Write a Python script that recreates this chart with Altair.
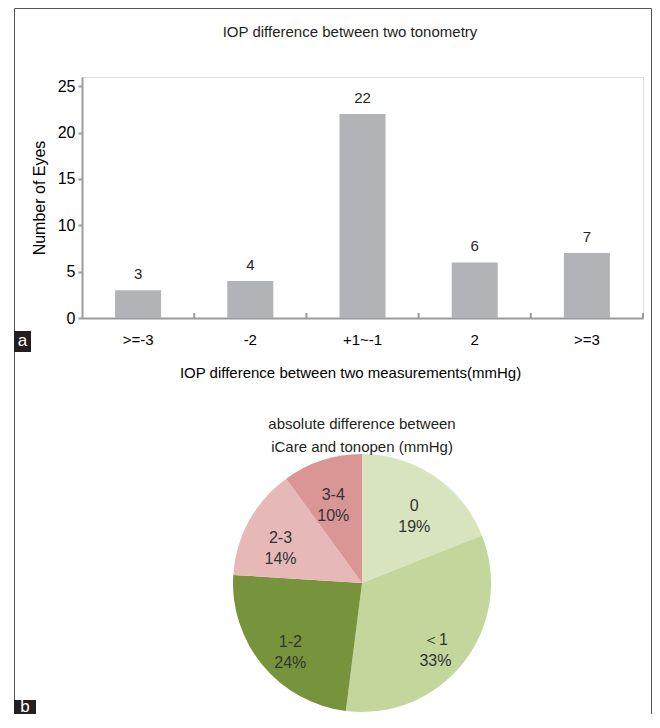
import altair as alt
import pandas as pd

FONT = "Liberation Sans"
TXT = "#231f20"

# Panel a: bar chart data
cats = [">=-3", "-2", "+1~-1", "2", ">=3"]
counts = [3, 4, 22, 6, 7]

# Panel b: pie chart data
slices = ["0", "＜1", "1-2", "2-3", "3-4"]
pcts = [19, 33, 24, 14, 10]
slice_colors = ["#d7e4bd", "#c3d69b", "#77933c", "#e6b9b8", "#d99694"]

bars_df = pd.DataFrame({"cat": cats, "count": counts})
pie_df = pd.DataFrame({
    "slice": slices,
    "pct": pcts,
    "idx": list(range(len(slices))),
    "label": [f"{s}\n{p}%" for s, p in zip(slices, pcts)],
})
one = pd.DataFrame({"k": [0]})

# plot area origin sits at page (82, 77)
OX, OY = 82, 77

xenc = alt.X(
    "cat:N", sort=cats,
    scale=alt.Scale(paddingInner=0, paddingOuter=0),
    axis=alt.Axis(
        title="IOP difference between two measurements(mmHg)",
        ticks=False, labelPadding=14, labelFontSize=15, labelAngle=0,
        titleFontSize=15, titlePadding=18, titleX=268, titleFontWeight="normal",
        domainColor="#9a9a9a", domainWidth=2,
    ),
)
yenc = alt.Y(
    "count:Q", scale=alt.Scale(domain=[0, 25]),
    axis=alt.Axis(
        title="Number of Eyes", values=[0, 5, 10, 15, 20, 25], grid=False,
        tickSize=4, tickColor="#9a9a9a", tickWidth=2, labelPadding=3,
        labelFontSize=16, titleFontSize=16, titleFontWeight="normal",
        titlePadding=10, domainColor="#9a9a9a", domainWidth=2,
    ),
)

frame = alt.Chart(one).mark_rect(filled=False, stroke="#555555", strokeWidth=1).encode(
    x=alt.value(14.5 - OX), x2=alt.value(651.5 - OX),
    y=alt.value(8.5 - OY), y2=alt.value(760 - OY),
)

bars = alt.Chart(bars_df).mark_bar(size=46, color="#b2b3b6").encode(x=xenc, y=yenc)

bar_text = alt.Chart(bars_df).mark_text(
    dy=-8, baseline="bottom", fontSize=15, font=FONT, color=TXT
).encode(x=alt.X("cat:N", sort=cats), y="count:Q", text="count:Q")

xticks = alt.Chart(bars_df).mark_rule(color="#9a9a9a", strokeWidth=2).encode(
    x=alt.X("cat:N", sort=cats, bandPosition=1),
    y=alt.value(241), y2=alt.value(236),
)

title_a = alt.Chart(one).mark_text(fontSize=15, font=FONT, color=TXT).encode(
    x=alt.value(350 - OX), y=alt.value(32 - OY),
    text=alt.value("IOP difference between two tonometry"),
)

pie = alt.Chart(pie_df).mark_arc(radius=129).encode(
    theta=alt.Theta("pct:Q", stack=True),
    order=alt.Order("idx:Q"),
    color=alt.Color("slice:N", sort=slices,
                    scale=alt.Scale(domain=slices, range=slice_colors), legend=None),
    x=alt.value(362 - OX), y=alt.value(583 - OY),
)

pie_text = alt.Chart(pie_df).mark_text(
    radius=93, lineBreak="\n", fontSize=16, font=FONT, color="#333333", lineHeight=21
).encode(
    theta=alt.Theta("pct:Q", stack=True),
    order=alt.Order("idx:Q"),
    text="label:N",
    x=alt.value(362 - OX), y=alt.value(583 - OY),
)

pie_title = alt.Chart(one).mark_text(
    fontSize=15, font=FONT, color=TXT, lineBreak="\n", lineHeight=23
).encode(
    x=alt.value(362 - OX), y=alt.value(424 - OY),
    text=alt.value("absolute difference between\niCare and tonopen (mmHg)"),
)

box_a = alt.Chart(one).mark_rect(color="#231f20").encode(
    x=alt.value(14 - OX), x2=alt.value(31 - OX),
    y=alt.value(331 - OY), y2=alt.value(352 - OY),
)
lab_a = alt.Chart(one).mark_text(fontSize=17, font=FONT, color="white").encode(
    x=alt.value(22.5 - OX), y=alt.value(341 - OY), text=alt.value("a"),
)
box_b = alt.Chart(one).mark_rect(color="#231f20").encode(
    x=alt.value(14 - OX), x2=alt.value(36 - OX),
    y=alt.value(700 - OY), y2=alt.value(735 - OY),
)
lab_b = alt.Chart(one).mark_text(fontSize=17, font=FONT, color="white").encode(
    x=alt.value(25 - OX), y=alt.value(707 - OY), text=alt.value("b"),
)

chart = alt.layer(
    frame, bars, bar_text, xticks, title_a, pie, pie_text, pie_title,
    box_a, lab_a, box_b, lab_b,
).properties(
    width=561, height=241,
    autosize=alt.AutoSizeParams(type="none"),
    padding={"left": OX - 8, "top": OY - 8, "right": 9, "bottom": 396},
).configure_view(strokeWidth=0, stroke="transparent").configure_axis(
    labelFont=FONT, titleFont=FONT, labelColor=TXT, titleColor=TXT,
).configure(background="white")

chart.save("out.html", embed_options={"renderer": "svg", "actions": False})
